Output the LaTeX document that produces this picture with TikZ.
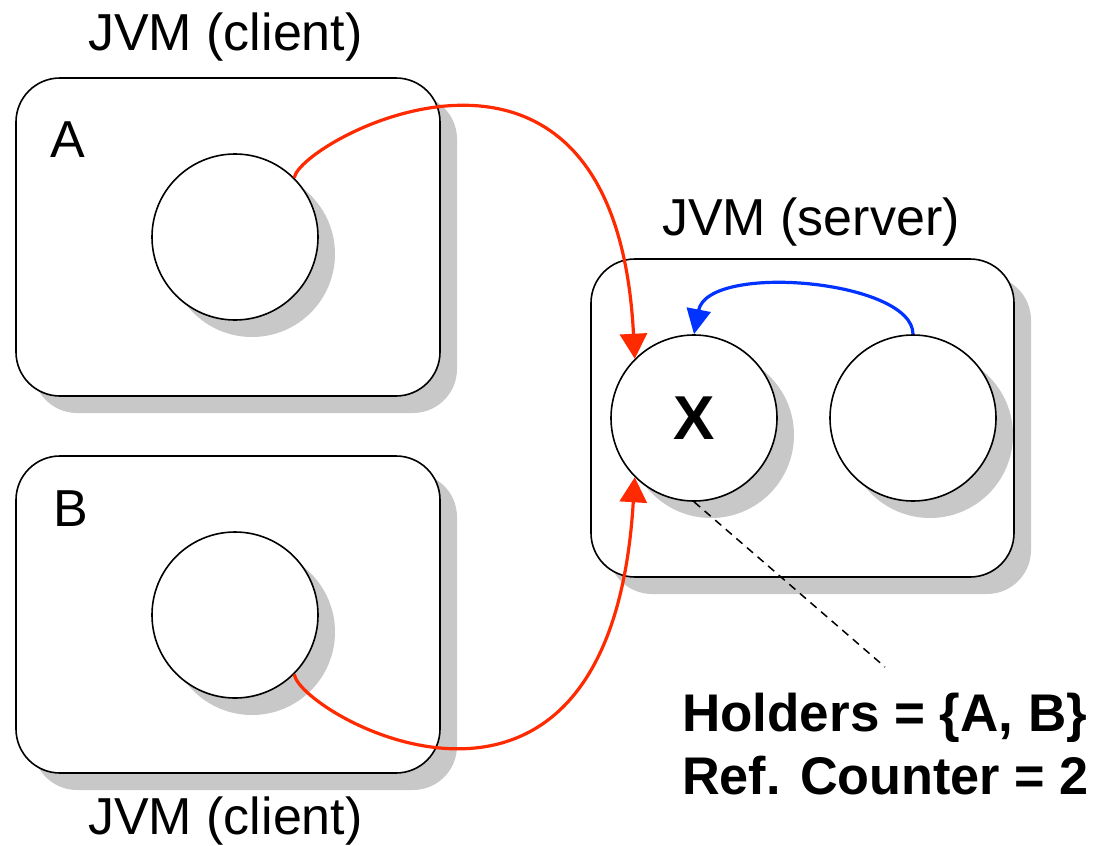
\documentclass[tikz,border=0pt]{standalone}
\usepackage{fontspec}
\setmainfont{Liberation Sans}
\usetikzlibrary{arrows.meta}
\definecolor{shade}{HTML}{C8C8C8}
\definecolor{linkred}{HTML}{FF2A00}
\definecolor{linkblue}{HTML}{0033FF}
\tikzset{
  jvmbox/.style={draw=black, line width=1.6pt, fill=white, rounded corners=44pt},
  jvmshadow/.style={fill=shade, draw=none, rounded corners=44pt},
  obj/.style={circle, draw=black, line width=1.6pt, fill=white, minimum size=166pt, inner sep=0pt},
  objshadow/.style={circle, fill=shade, draw=none, minimum size=166pt, inner sep=0pt},
  title/.style={font=\fontsize{52}{60}\selectfont, inner sep=0pt, anchor=base west},
  note/.style={font=\fontsize{53}{63}\selectfont\bfseries, inner sep=0pt, anchor=base west},
  ref/.style={draw=linkred, line width=3.2pt, -{Triangle[length=25pt,width=27pt]}},
  back/.style={draw=linkblue, line width=3.2pt, -{Triangle[length=25pt,width=24pt]}},
  leader/.style={draw=black, line width=1.5pt, dash pattern=on 8pt off 6pt}
}
\begin{document}
\begin{tikzpicture}[x=1pt, y=-1pt]
\useasboundingbox (0,0) rectangle (1093,846);

% client and server JVM boxes with their drop shadows
\fill[jvmshadow] (33,95) rectangle (457,413);
\draw[jvmbox] (16,78) rectangle (440,396);
\fill[jvmshadow] (33,473) rectangle (457,790);
\draw[jvmbox] (16,456) rectangle (440,773);
\fill[jvmshadow] (608,276) rectangle (1031,594);
\draw[jvmbox] (591,259) rectangle (1014,577);

% titles
\node[title] (tclientA) at (88,50) {JVM (client)};
\node[title] (tclientB) at (88,834) {JVM (client)};
\node[title] (tserver) at (662,235) {JVM (server)};
\node[title] (la) at (50,157) {A};
\node[title] (lb) at (53,526) {B};

% objects
\node[objshadow] (sa) at (252,254) {};
\node[obj] (a) at (235,237) {};
\node[objshadow] (sb) at (252,632) {};
\node[obj] (b) at (235,615) {};
\node[objshadow] (sx) at (711,435) {};
\node[obj, font=\fontsize{62}{70}\selectfont\bfseries] (x) at (694,418) {X};
\node[objshadow] (sr) at (930,435) {};
\node[obj] (r) at (913,418) {};

% remote references from the clients to X
\draw[ref] (a.45) .. controls (300,140) and (615,-30) .. (x.135);
\draw[ref] (b.-45) .. controls (300,715) and (610,890) .. (x.-135);

% local reference inside the server
\draw[back] (r.90) .. controls (913,280) and (708,262) .. (x.90);

% annotation
\coordinate (noteend) at (885,667);
\draw[leader] (x.-90) -- (noteend);
\node[note] (holders) at (682,731) {Holders = \{A, B\}};
\node[note] (counter) at (682,794) {\scalebox{0.985}[1]{Ref. Counter = 2}};
\end{tikzpicture}
\end{document}
